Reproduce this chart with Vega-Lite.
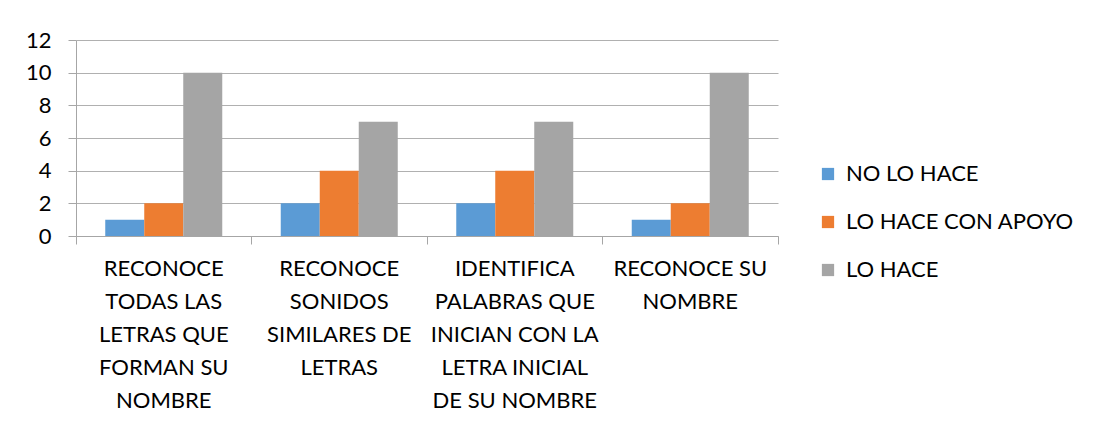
{
  "$schema": "https://vega.github.io/schema/vega-lite/v6.json",
  "width": 702,
  "height": 196,
  "autosize": {"type": "none"},
  "padding": {"left": 76, "top": 40, "right": 316, "bottom": 190},
  "background": "white",
  "config": {
    "view": {"stroke": null},
    "font": "Lato",
    "axis": {"labelFont": "Lato", "labelColor": "#000000"},
    "legend": {"labelFont": "Lato", "labelColor": "#000000"}
  },
  "data": {
    "values": [
      {"actividad": "RECONOCE|TODAS LAS|LETRAS QUE|FORMAN SU|NOMBRE", "nivel": "NO LO HACE", "valor": 1},
      {"actividad": "RECONOCE|TODAS LAS|LETRAS QUE|FORMAN SU|NOMBRE", "nivel": "LO HACE CON APOYO", "valor": 2},
      {"actividad": "RECONOCE|TODAS LAS|LETRAS QUE|FORMAN SU|NOMBRE", "nivel": "LO HACE", "valor": 10},
      {"actividad": "RECONOCE|SONIDOS|SIMILARES DE|LETRAS", "nivel": "NO LO HACE", "valor": 2},
      {"actividad": "RECONOCE|SONIDOS|SIMILARES DE|LETRAS", "nivel": "LO HACE CON APOYO", "valor": 4},
      {"actividad": "RECONOCE|SONIDOS|SIMILARES DE|LETRAS", "nivel": "LO HACE", "valor": 7},
      {"actividad": "IDENTIFICA|PALABRAS QUE|INICIAN CON LA|LETRA INICIAL|DE SU NOMBRE", "nivel": "NO LO HACE", "valor": 2},
      {"actividad": "IDENTIFICA|PALABRAS QUE|INICIAN CON LA|LETRA INICIAL|DE SU NOMBRE", "nivel": "LO HACE CON APOYO", "valor": 4},
      {"actividad": "IDENTIFICA|PALABRAS QUE|INICIAN CON LA|LETRA INICIAL|DE SU NOMBRE", "nivel": "LO HACE", "valor": 7},
      {"actividad": "RECONOCE SU|NOMBRE", "nivel": "NO LO HACE", "valor": 1},
      {"actividad": "RECONOCE SU|NOMBRE", "nivel": "LO HACE CON APOYO", "valor": 2},
      {"actividad": "RECONOCE SU|NOMBRE", "nivel": "LO HACE", "valor": 10}
    ]
  },
  "encoding": {
    "y": {
      "field": "valor", "type": "quantitative",
      "scale": {"domain": [0, 12], "nice": false},
      "axis": {
        "title": null, "values": [0, 2, 4, 6, 8, 10, 12], "tickCount": 7,
        "labelFontSize": 22, "labelPadding": 17, "labelOverlap": false,
        "tickSize": 8, "tickColor": "#a6a6a6",
        "domain": true, "domainColor": "#a6a6a6",
        "grid": true, "gridColor": "#b0b0b0"
      }
    }
  },
  "resolve": {"axis": {"x": "independent"}},
  "layer": [
    {
      "mark": {"type": "bar"},
      "encoding": {
        "x": {
          "field": "actividad", "type": "nominal", "sort": null,
          "scale": {"paddingInner": 0, "paddingOuter": 0},
          "axis": {
            "orient": "bottom",
            "title": null, "labels": false, "ticks": true, "tickExtra": true,
            "bandPosition": 1, "tickSize": 8, "tickColor": "#a6a6a6",
            "domain": true, "domainColor": "#a6a6a6", "grid": false
          }
        },
        "xOffset": {
          "field": "nivel", "type": "nominal",
          "sort": ["NO LO HACE", "LO HACE CON APOYO", "LO HACE"],
          "scale": {"paddingInner": 0, "paddingOuter": 0.75}
        },
        "color": {
          "field": "nivel", "type": "nominal",
          "sort": ["NO LO HACE", "LO HACE CON APOYO", "LO HACE"],
          "scale": {"domain": ["NO LO HACE", "LO HACE CON APOYO", "LO HACE"], "range": ["#5B9BD5", "#ED7D31", "#A5A5A5"]},
          "legend": {
            "title": null, "orient": "none", "legendX": 741, "legendY": 123,
            "symbolType": "square", "symbolSize": 150, "symbolStrokeWidth": 0,
            "labelFontSize": 22, "labelOffset": 7, "rowPadding": 26, "labelLimit": 0
          }
        }
      }
    },
    {
      "mark": {"type": "bar", "opacity": 0},
      "encoding": {
        "x": {
          "field": "actividad", "type": "nominal", "sort": null,
          "axis": {
            "orient": "bottom",
            "title": null, "ticks": false, "domain": false, "grid": false,
            "labelAngle": 0, "labelFontSize": 22, "labelLineHeight": 33,
            "labelPadding": 22, "labelLimit": 0, "labelBaseline": "top",
            "labelExpr": "split(datum.label, '|')"
          }
        }
      }
    }
  ]
}
